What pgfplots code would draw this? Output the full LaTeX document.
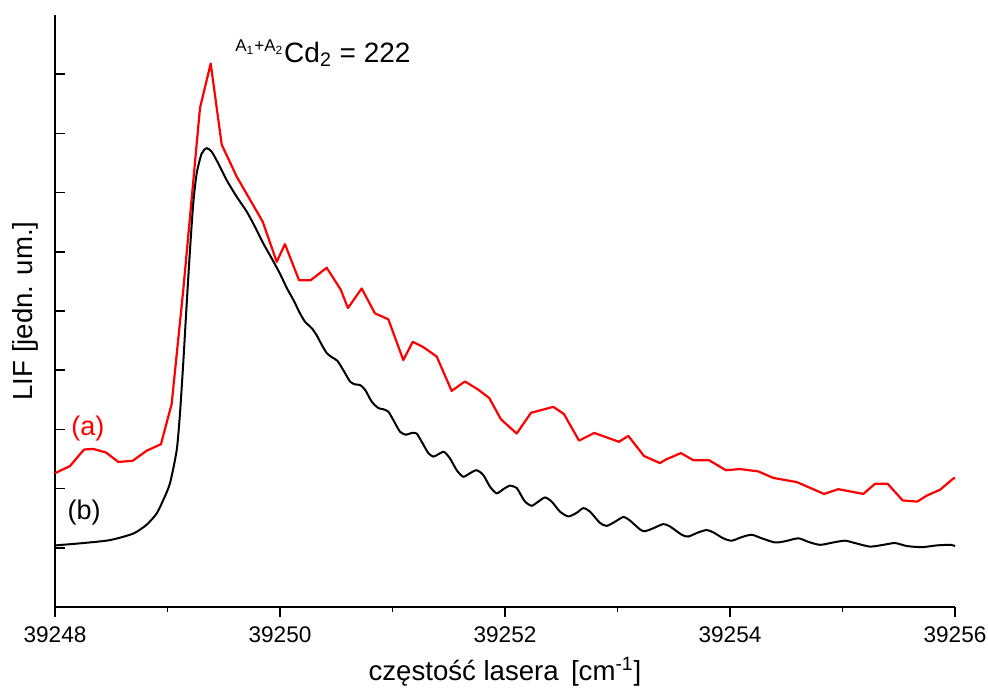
\documentclass[border=0pt]{standalone}
\usepackage{pgfplots}
\pgfplotsset{compat=1.18}
\usepackage{fontspec}
\setmainfont{Liberation Sans}
\begin{document}
\begin{tikzpicture}
\begin{axis}[
  scale only axis,
  width=450pt, height=296pt,
  xmin=39248, xmax=39256,
  ymin=0, ymax=10,
  axis lines=left,
  axis line style={-, line width=0.9pt},
  xtick={39248,39250,39252,39254,39256},
  minor x tick num=1,
  xtick align=outside,
  scaled x ticks=false,
  xticklabel style={/pgf/number format/fixed, /pgf/number format/precision=0, yshift=-1.5pt},
  ytick={1,2,3,4,5,6,7,8,9},
  yticklabels={},
  ytick align=inside,
  major tick length=5pt,
  minor tick length=2.6pt,
  tick style={line width=0.8pt, black},
  /pgf/number format/assume math mode=true,
  /pgf/number format/1000 sep={},
  ticklabel style={font=\fontsize{11.3}{13}\selectfont},
  xlabel={częstość lasera \,[cm\textsuperscript{-1}]},
  ylabel={LIF [jedn. um.]},
  label style={font=\fontsize{13.8}{16}\selectfont},
  xlabel style={yshift=0pt},
  ylabel style={yshift=-2pt},
  clip=false,
]
\addplot[red, line width=1.1pt, line join=round] coordinates {
(39248.000,2.26) (39248.133,2.38) (39248.258,2.66) (39248.340,2.67) (39248.453,2.61)
(39248.563,2.45) (39248.691,2.47) (39248.815,2.64) (39248.942,2.75) (39249.037,3.43)
(39249.140,5.35) (39249.289,8.43) (39249.384,9.18) (39249.482,7.81) (39249.615,7.27)
(39249.846,6.51) (39249.971,5.83) (39250.044,6.13) (39250.169,5.52) (39250.273,5.52)
(39250.415,5.73) (39250.540,5.36) (39250.604,5.05) (39250.726,5.38) (39250.844,4.96)
(39250.963,4.86) (39251.096,4.17) (39251.180,4.48) (39251.274,4.39) (39251.393,4.23)
(39251.526,3.65) (39251.644,3.81) (39251.763,3.67) (39251.860,3.53) (39251.964,3.17)
(39252.104,2.93) (39252.231,3.28) (39252.429,3.38) (39252.524,3.26) (39252.658,2.81)
(39252.794,2.94) (39253.013,2.79) (39253.096,2.89) (39253.236,2.55) (39253.378,2.43)
(39253.428,2.49) (39253.564,2.60) (39253.674,2.48) (39253.813,2.48) (39253.964,2.31)
(39254.089,2.33) (39254.252,2.29) (39254.385,2.18) (39254.593,2.11) (39254.836,1.91)
(39254.963,1.99) (39255.185,1.91) (39255.289,2.08) (39255.402,2.08) (39255.535,1.80)
(39255.665,1.78) (39255.748,1.88) (39255.867,1.98) (39255.985,2.17) (39256.000,2.18)
};
\addplot[black, line width=1.0pt, smooth, tension=0.4] coordinates {
(39248.000,1.04) (39248.252,1.08) (39248.489,1.13) (39248.696,1.24) (39248.815,1.39)
(39248.904,1.58) (39248.963,1.81) (39249.022,2.09) (39249.082,2.65) (39249.111,3.27)
(39249.140,4.12) (39249.171,5.13) (39249.200,6.03) (39249.229,6.82) (39249.260,7.33)
(39249.304,7.66) (39249.348,7.75) (39249.393,7.69) (39249.452,7.49) (39249.526,7.21)
(39249.615,6.93) (39249.704,6.68) (39249.778,6.42) (39249.852,6.14) (39249.926,5.89)
(39250.000,5.63) (39250.060,5.39) (39250.118,5.19) (39250.178,4.96) (39250.222,4.82)
(39250.282,4.71) (39250.326,4.59) (39250.371,4.43) (39250.415,4.29) (39250.460,4.22)
(39250.509,4.16) (39250.563,4.00) (39250.622,3.81) (39250.667,3.76) (39250.711,3.75)
(39250.756,3.67) (39250.815,3.47) (39250.874,3.36) (39250.918,3.34) (39250.963,3.30)
(39251.007,3.16) (39251.067,2.96) (39251.120,2.91) (39251.171,2.94) (39251.215,2.93)
(39251.260,2.79) (39251.318,2.60) (39251.363,2.54) (39251.407,2.58) (39251.458,2.62)
(39251.511,2.51) (39251.571,2.31) (39251.629,2.20) (39251.689,2.26) (39251.748,2.31)
(39251.807,2.23) (39251.867,2.03) (39251.926,1.92) (39251.985,1.99) (39252.044,2.05)
(39252.104,2.01) (39252.133,1.92) (39252.178,1.78) (39252.237,1.71) (39252.296,1.78)
(39252.356,1.85) (39252.415,1.78) (39252.489,1.61) (39252.563,1.53) (39252.637,1.59)
(39252.696,1.67) (39252.756,1.61) (39252.844,1.42) (39252.904,1.37) (39252.978,1.44)
(39253.052,1.52) (39253.111,1.46) (39253.200,1.31) (39253.244,1.28) (39253.318,1.33)
(39253.407,1.40) (39253.467,1.36) (39253.571,1.22) (39253.629,1.19) (39253.718,1.26)
(39253.793,1.30) (39253.852,1.26) (39253.940,1.16) (39254.015,1.12) (39254.104,1.18)
(39254.193,1.22) (39254.282,1.16) (39254.400,1.09) (39254.489,1.11) (39254.607,1.16)
(39254.696,1.10) (39254.800,1.05) (39254.918,1.09) (39255.022,1.12) (39255.111,1.08)
(39255.244,1.02) (39255.363,1.05) (39255.467,1.08) (39255.571,1.03) (39255.704,1.01)
(39255.837,1.04) (39255.956,1.05) (39256.000,1.03)
};
\node[red, font=\fontsize{13.5}{15}\selectfont] at (axis cs:39248.293,3.02) {(a)};
\node[black, font=\fontsize{13.5}{15}\selectfont] at (axis cs:39248.258,1.59) {(b)};
\node[anchor=base west, font=\fontsize{14}{16}\selectfont, inner sep=0pt] at (axis cs:39249.6,9.2)
  {\textsuperscript{\fontsize{8.5}{9}\selectfont A\textsubscript{1}+A\textsubscript{2}}Cd\textsubscript{2} = 222};
\end{axis}
\pgfresetboundingbox
\path[use as bounding box] ([xshift=-27.5pt,yshift=-40.5pt]current axis.south west) rectangle ([xshift=16.5pt,yshift=7.5pt]current axis.north east);
\end{tikzpicture}
\end{document}
